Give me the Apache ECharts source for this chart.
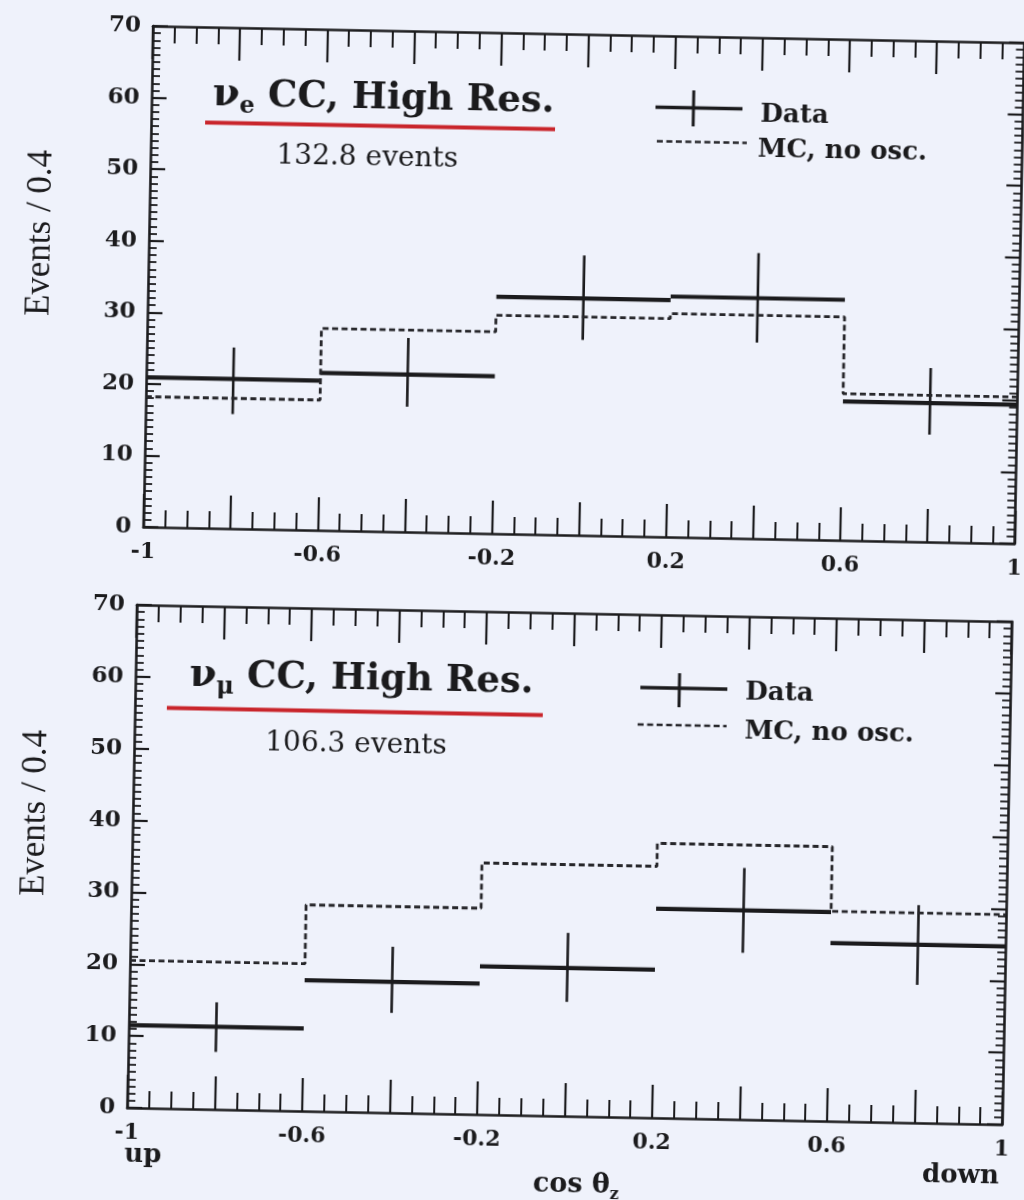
<!DOCTYPE html>
<html>
<head>
<meta charset="utf-8">
<script src="https://cdn.jsdelivr.net/npm/echarts@6/dist/echarts.min.js"></script>
<style>
  html, body { margin: 0; padding: 0; background: #eff2fb; }
  /* the printed page sits a little askew */
  #chart { width: 1024px; height: 1200px; transform: rotate(1.1deg); transform-origin: 512px 600px; }
</style>
</head>
<body>
<div id="chart"></div>
<script>
// cos(theta_z) bin edges shared by both panels
const binEdges = [-1, -0.6, -0.2, 0.2, 0.6, 1];
const xTickLabels = ['-1', '-0.6', '-0.2', '0.2', '0.6', '1'];
const yTickLabels = ['0', '10', '20', '30', '40', '50', '60', '70'];

// nu_e CC, high resolution sample
const nueData    = [20.9, 22.0, 33.1, 33.6, 19.4];
const nueErrLow  = [16.0, 17.5, 27.3, 27.4, 15.0];
const nueErrHigh = [25.3, 27.1, 39.1, 39.9, 24.3];
const nueMC      = [18.2, 28.2, 30.5, 31.2, 20.5];

// nu_mu CC, high resolution sample
const numuData    = [11.5, 18.2, 20.6, 29.1, 24.8];
const numuErrLow  = [8.0, 13.9, 15.9, 23.2, 19.2];
const numuErrHigh = [14.9, 23.1, 25.5, 35.0, 30.3];
const numuMC      = [20.5, 28.7, 35.0, 38.2, 29.2];

const INK = '#1b1b1d';
const SERIF = '"DejaVu Serif", "Liberation Serif", serif';
const xLabelValues = xTickLabels.map(Number);

function crossRows(vals, lo, hi) {
  return vals.map((v, i) => [binEdges[i], binEdges[i + 1], v, lo[i], hi[i]]);
}
function stepPoints(vals) {
  const pts = [];
  vals.forEach((v, i) => { pts.push([binEdges[i], v]); pts.push([binEdges[i + 1], v]); });
  return pts;
}
function renderCross(params, api) {
  const lo = api.value(0), hi = api.value(1), v = api.value(2);
  const eLo = api.value(3), eHi = api.value(4);
  const mid = (lo + hi) / 2;
  const a = api.coord([lo, v]), b = api.coord([hi, v]);
  const c = api.coord([mid, eLo]), d = api.coord([mid, eHi]);
  return {
    type: 'group',
    children: [
      { type: 'line', shape: { x1: a[0], y1: a[1], x2: b[0], y2: b[1] }, style: { stroke: INK, lineWidth: 4.2 } },
      { type: 'line', shape: { x1: c[0], y1: c[1], x2: d[0], y2: d[1] }, style: { stroke: INK, lineWidth: 2.6 } }
    ]
  };
}

function xAxisDef(grid, pos) {
  const bottom = pos === 'bottom';
  return {
    type: 'value', gridIndex: grid, position: pos, min: -1, max: 1, interval: 0.2,
    axisLine: { onZero: false, lineStyle: { color: INK, width: 2.6 } },
    axisTick: { inside: true, length: 33, lineStyle: { color: INK, width: 2.2 } },
    minorTick: { show: true, splitNumber: 4, length: 17, lineStyle: { color: INK, width: 2 } },
    splitLine: { show: false },
    axisLabel: {
      show: bottom, margin: 14, showMinLabel: true, showMaxLabel: true,
      color: INK, fontFamily: SERIF, fontWeight: 'bold', fontSize: 22,
      formatter: v => {
        const i = xLabelValues.findIndex(t => Math.abs(t - v) < 1e-6);
        return i >= 0 ? xTickLabels[i] : '';
      }
    }
  };
}
function yAxisDef(grid, pos) {
  const left = pos === 'left';
  return {
    type: 'value', gridIndex: grid, position: pos, min: 0, max: 70, interval: 10,
    axisLine: { onZero: false, lineStyle: { color: INK, width: 2.6 } },
    axisTick: { inside: true, length: 15, lineStyle: { color: INK, width: 2.2 } },
    minorTick: { show: true, splitNumber: 10, length: 8, lineStyle: { color: INK, width: 1.8 } },
    splitLine: { show: false },
    axisLabel: {
      show: left, margin: 12, showMinLabel: true, showMaxLabel: true,
      color: INK, fontFamily: SERIF, fontWeight: 'bold', fontSize: 23,
      formatter: v => yTickLabels[Math.round(v / 10)] || ''
    }
  };
}

function text(x, y, str, font) {
  return {
    type: 'text', x: x, y: y, silent: true,
    style: { text: str, font: font, fill: INK, align: 'left', verticalAlign: 'middle' }
  };
}
function vtext(x, y, str, font) {
  return {
    type: 'text', x: x, y: y, rotation: Math.PI / 2, silent: true,
    style: { text: str, font: font, fill: INK, align: 'center', verticalAlign: 'middle' }
  };
}
function seg(x1, y1, x2, y2, stroke, width, dash) {
  return {
    type: 'line', silent: true, shape: { x1, y1, x2, y2 },
    style: { stroke: stroke, lineWidth: width, lineDash: dash || null }
  };
}
function panelTitle(x, y, sub) {
  return {
    type: 'text', x: x, y: y, silent: true,
    style: {
      text: '{nu|ν}{sub|' + sub + '}{t| CC, High Res.}',
      align: 'left', verticalAlign: 'middle',
      rich: {
        nu: { font: 'bold 39px ' + SERIF, fill: INK, lineHeight: 46 },
        sub: { font: 'bold 24px ' + SERIF, fill: INK, verticalAlign: 'bottom', lineHeight: 36 },
        t: { font: 'bold 37px ' + SERIF, fill: INK, lineHeight: 46 }
      }
    }
  };
}

const RED = '#c9252b';
const MCINK = '#26262a';
const legendFont = 'bold 26px ' + SERIF;
const eventsFont = '28px ' + SERIF;
const yNameFont = '35px "Liberation Serif", serif';

const chart = echarts.init(document.getElementById('chart'), null, { renderer: 'canvas' });
chart.setOption({
  backgroundColor: 'transparent',
  animation: false,
  grid: [
    { left: 142, top: 33, width: 872, height: 501 },
    { left: 137, top: 612, width: 875, height: 503 }
  ],
  xAxis: [xAxisDef(0, 'bottom'), xAxisDef(0, 'top'), xAxisDef(1, 'bottom'), xAxisDef(1, 'top')],
  yAxis: [yAxisDef(0, 'left'), yAxisDef(0, 'right'), yAxisDef(1, 'left'), yAxisDef(1, 'right')],
  series: [
    {
      name: 'MC, no osc.', type: 'line', xAxisIndex: 0, yAxisIndex: 0,
      data: stepPoints(nueMC), symbol: 'none', silent: true,
      lineStyle: { color: MCINK, width: 2.8, type: [6, 3.5] }
    },
    {
      name: 'Data', type: 'custom', xAxisIndex: 0, yAxisIndex: 0,
      data: crossRows(nueData, nueErrLow, nueErrHigh),
      encode: { x: [0, 1], y: [2, 3, 4] }, renderItem: renderCross, silent: true
    },
    {
      name: 'MC, no osc.', type: 'line', xAxisIndex: 2, yAxisIndex: 2,
      data: stepPoints(numuMC), symbol: 'none', silent: true,
      lineStyle: { color: MCINK, width: 2.8, type: [6, 3.5] }
    },
    {
      name: 'Data', type: 'custom', xAxisIndex: 2, yAxisIndex: 2,
      data: crossRows(numuData, numuErrLow, numuErrHigh),
      encode: { x: [0, 1], y: [2, 3, 4] }, renderItem: renderCross, silent: true
    }
  ],
  graphic: [
    // upper panel annotations
    panelTitle(203, 101, 'e'),
    seg(196, 128.5, 546, 128.5, RED, 4),
    text(268, 161, '132.8 events', eventsFont),
    seg(646, 104.5, 733, 104.5, INK, 3.5),
    seg(684, 87, 684, 123, INK, 3),
    text(751, 110, 'Data', legendFont),
    seg(648, 138.5, 738, 138.5, MCINK, 2.5, [6, 3.5]),
    text(749, 145, 'MC, no osc.', legendFont),
    vtext(34, 242, 'Events / 0.4', yNameFont),

    // lower panel annotations
    panelTitle(191, 682, 'μ'),
    seg(169, 714.5, 545, 714.5, RED, 4),
    text(268, 748, '106.3 events', eventsFont),
    seg(642, 685, 729, 685, INK, 3.5),
    seg(681, 670, 681, 704, INK, 3),
    text(747, 688.5, 'Data', legendFont),
    seg(640, 722, 729, 722, MCINK, 2.5, [6, 3.5]),
    text(747, 727.5, 'MC, no osc.', legendFont),
    vtext(40, 822, 'Events / 0.4', yNameFont),

    // shared x-axis captions
    text(135, 1162, 'up', 'bold 26px ' + SERIF),
    text(933, 1167, 'down', 'bold 26px ' + SERIF),
    {
      type: 'text', x: 544, y: 1184, silent: true,
      style: {
        text: '{t|cos θ}{sub|z}', align: 'left', verticalAlign: 'middle',
        rich: {
          t: { font: 'bold 27px ' + SERIF, fill: INK, lineHeight: 34 },
          sub: { font: 'bold 16px ' + SERIF, fill: INK, verticalAlign: 'bottom', lineHeight: 28 }
        }
      }
    }
  ]
});
</script>
</body>
</html>
